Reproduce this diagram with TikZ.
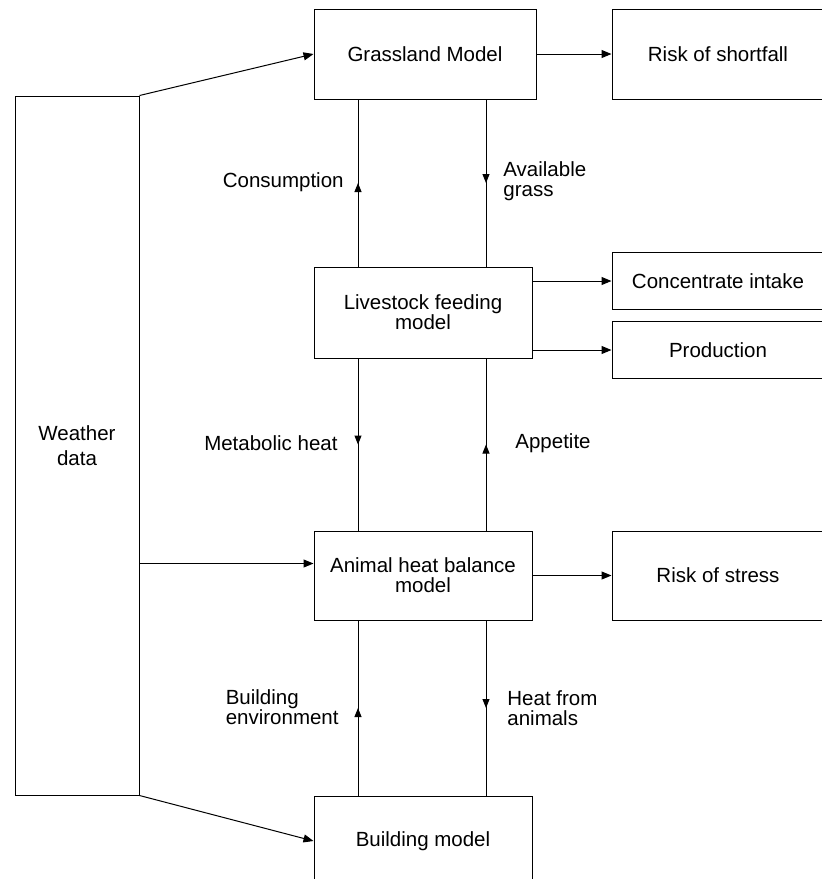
\documentclass[tikz,border=0pt]{standalone}
\usepackage{fontspec}
\setmainfont{Liberation Sans}
\usepackage{tikz}
\usetikzlibrary{arrows.meta,positioning,calc,decorations.markings}

\tikzset{
  modelbox/.style={draw, line width=0.5pt, align=center, inner sep=0pt, font=\fontsize{10.25}{10}\selectfont},
  flow/.style={line width=0.5pt, -{Triangle[length=5pt,width=4pt]}},
  midflow/.style={line width=0.5pt, postaction={decorate},
    decoration={markings, mark=at position 0.5 with {\arrow{Triangle[length=4.5pt,width=3.5pt]}}}},
  lbl/.style={font=\fontsize{10.25}{10}\selectfont, align=left, inner sep=0pt}
}

\begin{document}
\begin{tikzpicture}[x=0.5pt,y=-0.5pt]
    \useasboundingbox (0,0) rectangle (822,879);
    \node[modelbox, minimum width=62pt, minimum height=349.5pt, font=\fontsize{10.25}{12.5}\selectfont] (weather) at (77,445.5) {Weather\\data};
    \node[modelbox, minimum width=111pt, minimum height=45pt] (grass) at (425,54) {Grassland Model};
    \node[modelbox, minimum width=106pt, minimum height=45pt] (shortfall) at (718,54) {Risk of shortfall};
    \node[modelbox, minimum width=109pt, minimum height=45.5pt] (feed) at (423,312.5) {Livestock feeding\\model};
    \node[modelbox, minimum width=106pt, minimum height=28.5pt] (conc) at (718,281) {Concentrate intake};
    \node[modelbox, minimum width=106pt, minimum height=28.5pt] (prod) at (718,350) {Production};
    \node[modelbox, minimum width=109pt, minimum height=44.5pt] (heat) at (423,575.5) {Animal heat balance\\model};
    \node[modelbox, minimum width=106pt, minimum height=44.5pt] (stress) at (718,575.5) {Risk of stress};
    \node[modelbox, minimum width=109pt, minimum height=45pt] (building) at (423,841) {Building model};

    \coordinate (lx) at (358,0);
    \coordinate (rx) at (486,0);

    \draw[flow] (weather.north east) -- (grass.west);
    \draw[flow] ([yshift=6pt]heat.west -| weather.east) -- ([yshift=6pt]heat.west);
    \draw[flow] (weather.south east) -- (building.west);
    \draw[flow] (grass.east) -- (shortfall.west);
    \draw[flow] (feed.east |- conc.west) -- (conc.west);
    \draw[flow] (feed.east |- prod.west) -- (prod.west);
    \draw[flow] (heat.east) -- (stress.west);

    \draw[midflow] (lx |- feed.north) -- (lx |- grass.south);
    \draw[midflow] (rx |- grass.south) -- (rx |- feed.north);
    \draw[midflow] (lx |- feed.south) -- (lx |- heat.north);
    \draw[midflow] (rx |- heat.north) -- (rx |- feed.south);
    \draw[midflow] (lx |- building.north) -- (lx |- heat.south);
    \draw[midflow] (rx |- heat.south) -- (rx |- building.north);

    \node[lbl, anchor=east] (consumption) at (344,182) {Consumption};
    \node[lbl, anchor=west] (available) at (503,181) {Available\\grass};
    \node[lbl, anchor=east] (metabolic) at (338,443) {Metabolic heat};
    \node[lbl, anchor=west] (appetite) at (515,443) {Appetite};
    \node[lbl, anchor=east] (environment) at (339,707) {Building\\environment};
    \node[lbl, anchor=west] (animalheat) at (507,708) {Heat from\\animals};
\end{tikzpicture}
\end{document}
